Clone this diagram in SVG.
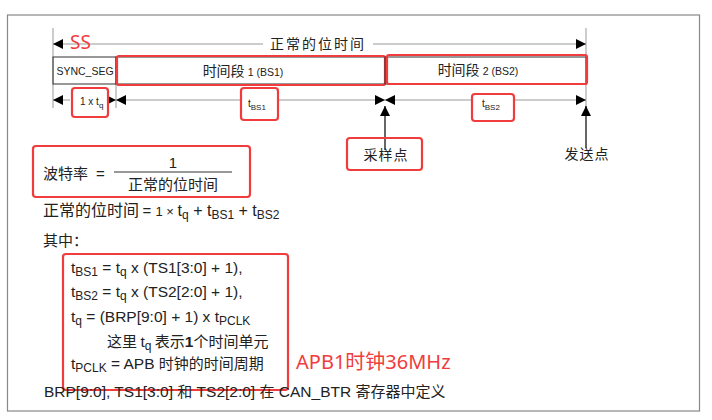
<svg xmlns="http://www.w3.org/2000/svg" width="712" height="420" viewBox="0 0 712 420">
<defs>
<marker id="ah" viewBox="0 0 10 10" refX="10" refY="5" markerWidth="10" markerHeight="10" markerUnits="userSpaceOnUse" orient="auto-start-reverse">
<path d="M0,0 L10,5 L0,10 z" fill="#000"/>
</marker>
<style>
.t{font-family:"Liberation Sans","Noto Sans CJK SC",sans-serif;fill:#222}
.cj{font-family:"Noto Sans CJK SC","Liberation Sans",sans-serif;fill:#222}
.red{fill:none;stroke:#f03c3c;stroke-width:2.2}
.gl{stroke:#999;stroke-width:1;fill:none}
.dim{stroke:#999;stroke-width:1;fill:none}
.rt{font-family:"Noto Sans","Noto Sans CJK SC",sans-serif;fill:#f03c3c}
</style>
</defs>
<rect x="0" y="0" width="712" height="420" fill="#fff"/>
<rect id="frame" x="7.5" y="15" width="692" height="396" fill="none" stroke="#888" stroke-width="1.2"/>

<g id="guides">
<line class="gl" x1="53" y1="28" x2="53" y2="108"/>
<line class="gl" x1="116" y1="84" x2="116" y2="108"/>
<line class="gl" x1="586" y1="28" x2="586" y2="108"/>
</g>

<g id="connectors">
<line class="dim" x1="53" y1="44" x2="263" y2="44" marker-start="url(#ah)"/>
<line class="dim" x1="373" y1="44" x2="586" y2="44" marker-end="url(#ah)"/>
<line class="dim" x1="53" y1="100" x2="116" y2="100" marker-start="url(#ah)" marker-end="url(#ah)"/>
<line class="dim" x1="116" y1="100" x2="385" y2="100" marker-start="url(#ah)" marker-end="url(#ah)"/>
<line class="dim" x1="385" y1="100" x2="586" y2="100" marker-start="url(#ah)" marker-end="url(#ah)"/>
<line x1="385" y1="150" x2="385" y2="106" stroke="#000" stroke-width="1.2" marker-end="url(#ah)"/>
<line x1="586" y1="148" x2="586" y2="106" stroke="#000" stroke-width="1.2" marker-end="url(#ah)"/>
</g>

<text class="cj" x="318" y="49" font-size="14" text-anchor="middle" letter-spacing="2">正常的位时间</text>
<text class="rt" x="70" y="49" font-size="19">SS</text>

<g id="sync">
<rect x="53" y="57" width="63" height="27" fill="none" stroke="#333" stroke-width="1"/>
<text class="t" x="85" y="75" font-size="10.5" text-anchor="middle">SYNC_SEG</text>
</g>
<g id="bs1">
<rect x="116" y="57" width="269" height="27" fill="none" stroke="#333" stroke-width="1"/>
<rect class="red" x="117" y="56" width="268" height="29" rx="2"/>
<text class="cj" x="243" y="76" font-size="14" text-anchor="middle">时间段 <tspan class="t" font-size="10.5">1 (BS1)</tspan></text>
</g>
<g id="bs2">
<rect x="385" y="57" width="201" height="27" fill="none" stroke="#333" stroke-width="1"/>
<rect class="red" x="387" y="55" width="200" height="29" rx="2"/>
<text class="cj" x="478" y="75" font-size="14" text-anchor="middle">时间段 <tspan class="t" font-size="10.5">2 (BS2)</tspan></text>
</g>

<g id="d1">
<rect x="70" y="88" width="38" height="29" fill="#fff"/>
<rect class="red" x="72" y="88" width="36" height="29" rx="3"/>
<text class="t" x="80" y="105" font-size="10">1 x t<tspan font-size="8" dy="3">q</tspan></text>
</g>
<g id="d2">
<rect class="red" x="241" y="88" width="37" height="32" rx="3" style="fill:#fff"/>
<text class="t" x="248" y="107" font-size="10">t<tspan font-size="8" dy="3">BS1</tspan></text>
</g>
<g id="d3">
<rect class="red" x="472" y="94" width="42" height="27" rx="3" style="fill:#fff"/>
<text class="t" x="482" y="107" font-size="10">t<tspan font-size="8" dy="3">BS2</tspan></text>
</g>

<g id="sample">
<rect class="red" x="347" y="138" width="75" height="32" rx="3"/>
<text class="cj" x="386" y="160" font-size="14" text-anchor="middle" letter-spacing="1">采样点</text>
</g>
<g id="send">
<text class="cj" x="587" y="159" font-size="14" text-anchor="middle" letter-spacing="1">发送点</text>
</g>

<g id="formula">
<rect class="red" x="33" y="146" width="217" height="51" rx="3"/>
<text class="cj" x="43" y="179" font-size="15">波特率</text>
<text class="t" x="96" y="179" font-size="15">=</text>
<text class="t" x="173" y="168" font-size="15" text-anchor="middle">1</text>
<line x1="114" y1="172" x2="232" y2="172" stroke="#333" stroke-width="1"/>
<text class="cj" x="173" y="190" font-size="15" text-anchor="middle">正常的位时间</text>
</g>

<text class="cj" x="43" y="216" font-size="16">正常的位时间 <tspan class="t" font-size="15">= </tspan><tspan class="t" font-size="13">1 × </tspan><tspan class="t" font-size="16">t</tspan><tspan class="t" font-size="12" dy="3">q</tspan><tspan class="t" font-size="16" dy="-3"> + t</tspan><tspan class="t" font-size="12" dy="3">BS1</tspan><tspan class="t" font-size="16" dy="-3"> + t</tspan><tspan class="t" font-size="12" dy="3">BS2</tspan></text>
<text class="cj" x="43" y="246" font-size="15">其中：</text>

<g id="defs-box">
<rect class="red" x="63" y="254" width="225" height="136" rx="3"/>
<text class="t" x="71" y="273" font-size="15.5">t<tspan font-size="12" dy="3">BS1</tspan><tspan dy="-3"> = t</tspan><tspan font-size="12" dy="3">q</tspan><tspan dy="-3"> x (TS1[3:0] + 1),</tspan></text>
<text class="t" x="71" y="297" font-size="15.5">t<tspan font-size="12" dy="3">BS2</tspan><tspan dy="-3"> = t</tspan><tspan font-size="12" dy="3">q</tspan><tspan dy="-3"> x (TS2[2:0] + 1),</tspan></text>
<text class="t" x="71" y="322" font-size="15.5">t<tspan font-size="12" dy="3">q</tspan><tspan dy="-3"> = (BRP[9:0] + 1) x t</tspan><tspan font-size="12" dy="3">PCLK</tspan></text>
<text class="cj" x="107" y="347" font-size="15">这里 <tspan class="t" font-size="15.5">t</tspan><tspan class="t" font-size="12" dy="3">q</tspan><tspan dy="-3"> 表示</tspan><tspan class="t" font-weight="bold" font-size="15.5">1</tspan>个时间单元</text>
<text class="t" x="71" y="369" font-size="15.5">t<tspan font-size="12" dy="3">PCLK</tspan><tspan dy="-3"> = APB </tspan><tspan class="cj" font-size="15">时钟的时间周期</tspan></text>
</g>
<text class="rt" x="296" y="369" font-size="20">APB1时钟36MHz</text>

<text class="t" x="44" y="397" font-size="15.5">BRP[9:0], TS1[3:0] <tspan class="cj" font-size="15">和</tspan> TS2[2:0] <tspan class="cj" font-size="15">在</tspan> CAN_BTR <tspan class="cj" font-size="15">寄存器中定义</tspan></text>
</svg>
